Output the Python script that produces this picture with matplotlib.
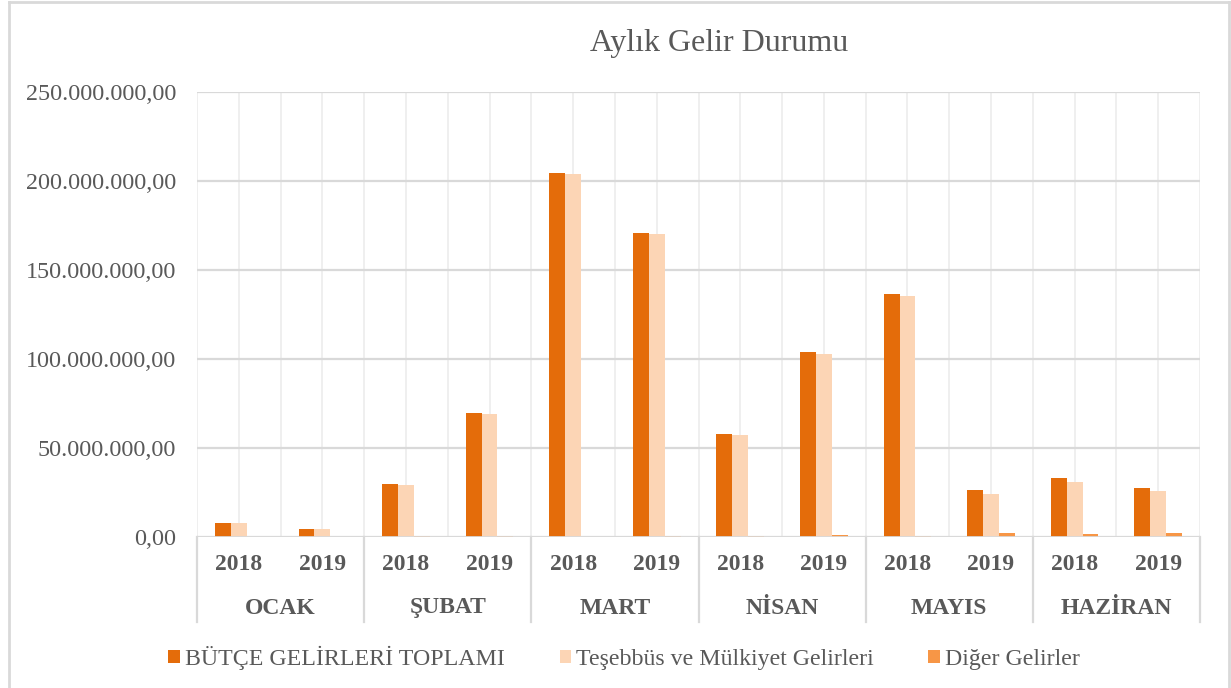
import matplotlib
matplotlib.use("Agg")
import matplotlib.pyplot as plt
from matplotlib.lines import Line2D
from matplotlib.patches import Patch
from matplotlib.ticker import FuncFormatter
import matplotlib.transforms as mtransforms
import numpy as np

plt.rcParams['font.family'] = ['Liberation Serif', 'DejaVu Serif']

months = ["OCAK", "ŞUBAT", "MART", "NİSAN", "MAYIS", "HAZİRAN"]
years = ["2018", "2019"]
series_names = ["BÜTÇE GELİRLERİ TOPLAMI", "Teşebbüs ve Mülkiyet Gelirleri", "Diğer Gelirler"]
# values in TL, order: OCAK18, OCAK19, ŞUBAT18, ŞUBAT19, ... HAZİRAN19
butce = [8.0e6, 4.7e6, 29.8e6, 69.7e6, 204.5e6, 170.8e6, 57.9e6, 103.9e6, 136.5e6, 26.4e6, 33.1e6, 27.7e6]
tesebbus = [7.7e6, 4.3e6, 29.0e6, 69.1e6, 204.0e6, 170.2e6, 57.3e6, 102.8e6, 135.4e6, 24.2e6, 30.9e6, 25.8e6]
diger = [0.0, 0.1e6, 0.7e6, 0.4e6, 0.2e6, 0.5e6, 0.4e6, 1.1e6, 0.4e6, 2.1e6, 1.9e6, 2.1e6]
title = "Aylık Gelir Durumu"

colors = ["#E46C0A", "#FCD5B5", "#F79646"]
text_color = "#595959"
grid_color = "#D9D9D9"

W, H = 1231, 688
fig = plt.figure(figsize=(W / 100, H / 100), dpi=100)
ax = fig.add_axes([197 / W, 1 - 537 / H, (1200 - 197) / W, (537 - 92) / H])

n = len(butce)
x = np.arange(n)
bw = 0.19
for i, (vals, c) in enumerate(zip([butce, tesebbus, diger], colors)):
    ax.bar(x + (i - 1) * bw, vals, width=bw, color=c, zorder=3, linewidth=0)

ax.set_xlim(-0.5, n - 0.5)
ax.set_ylim(0, 250e6)
ax.set_yticks(np.arange(0, 250e6 + 1, 50e6))

def fmt(v, pos):
    s = f"{v:,.2f}"
    return s.replace(",", "X").replace(".", ",").replace("X", ".")

ax.yaxis.set_major_formatter(FuncFormatter(fmt))
ax.tick_params(axis='y', length=0, pad=15, labelsize=17.4, labelcolor=text_color)
ax.set_xticks([])
for sp in ax.spines.values():
    sp.set_visible(False)
ax.grid(axis='y', color=grid_color, linewidth=1.6, zorder=1)
for xv in np.arange(-0.5, n, 0.5):
    ax.axvline(xv, color="#EFEFEF", linewidth=1.4, zorder=0.5)
ax.axhline(0, color=grid_color, linewidth=2.0, zorder=4)

# category labels below axis
trans = mtransforms.blended_transform_factory(ax.transData, fig.transFigure)
for i in range(n):
    ax.text(x[i], 1 - 565 / H, years[i % 2], transform=trans, ha='center', va='center',
            fontsize=17, fontweight='bold', color=text_color)
for j, m in enumerate(months):
    ax.text(2 * j + 0.5, 1 - 608 / H, m, transform=trans, ha='center', va='center',
            fontsize=17, fontweight='bold', color=text_color)
for xv in np.arange(-0.5, n, 2):
    ax.add_line(Line2D([xv, xv], [1 - 537 / H, 1 - 622 / H], transform=trans,
                       color=grid_color, linewidth=1.6, clip_on=False))

# title
fig.text(719 / W, 1 - 44 / H, title, ha='center', va='center', fontsize=23, color=text_color)

# legend
handles = [Patch(facecolor=c, edgecolor='none') for c in colors]
leg = fig.legend(handles, series_names, loc='center', bbox_to_anchor=(624 / W, 1 - 658 / H),
                 ncol=3, frameon=False, fontsize=17.2, handlelength=0.48, handleheight=0.48,
                 handletextpad=0.2, columnspacing=2.3, labelcolor=text_color)

# outer border (chart area frame)
for coords in [([9, 9], [2, 700]), ([9, 1229], [2, 2]), ([1229, 1229], [2, 700])]:
    fig.add_artist(Line2D([c / W for c in coords[0]], [1 - c / H for c in coords[1]],
                          transform=fig.transFigure, color=grid_color, linewidth=2))

fig.savefig("out.png", dpi=100, facecolor='white')
